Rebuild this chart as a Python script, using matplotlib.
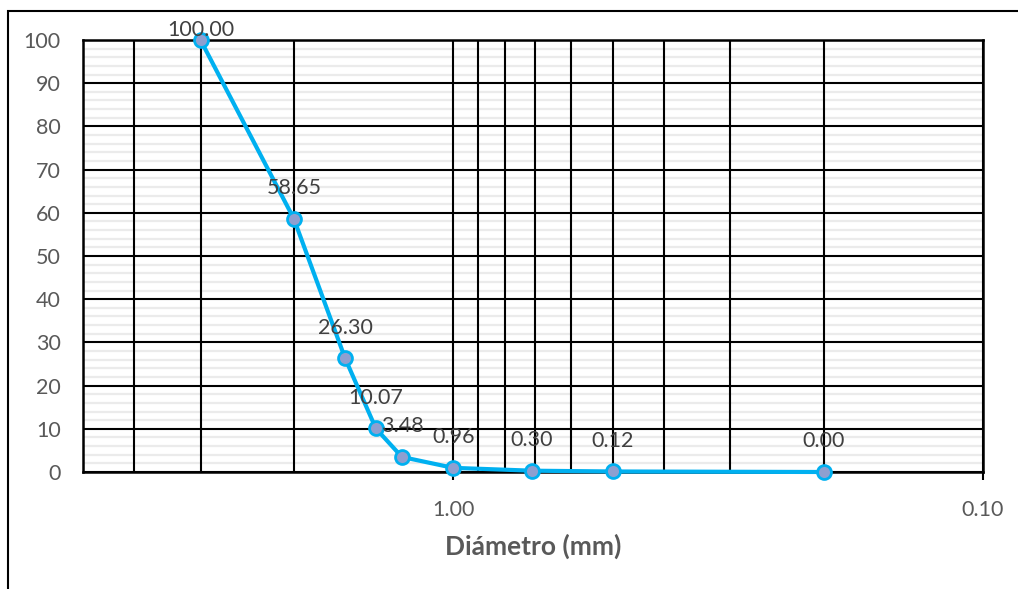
import matplotlib.pyplot as plt
from matplotlib.ticker import LogLocator, FixedLocator, FixedFormatter, NullFormatter, MultipleLocator
from matplotlib.patches import Rectangle

# sieve opening (mm) and percent passing
diametro = [3.0, 2.0, 1.6, 1.4, 1.25, 1.0, 0.71, 0.5, 0.2]
pasante = [100.00, 58.65, 26.30, 10.07, 3.48, 0.96, 0.30, 0.12, 0.00]
x_ticks = [1.0, 0.1]
x_tick_labels = ['1.00', '0.10']

plt.rcParams['font.family'] = ['Lato', 'DejaVu Sans']

fig = plt.figure(figsize=(10.18, 5.89), dpi=100)
ax = fig.add_axes([83/1018, 1 - 472/589, 900/1018, 432/589])

# chart border
fig.patches.append(Rectangle((8/1018, -0.1), 1.1, 1 - 11/589 + 0.1, transform=fig.transFigure,
                             fill=False, edgecolor='black', linewidth=1.5))

ax.set_xscale('log')
ax.set_xlim(5, 0.1)
ax.set_ylim(0, 100)

# grid: black on log decades and sub-decades, light grey every 2 on y
ax.xaxis.set_major_locator(FixedLocator(x_ticks))
ax.xaxis.set_major_formatter(FixedFormatter(x_tick_labels))
ax.xaxis.set_minor_locator(LogLocator(base=10, subs=range(2, 10)))
ax.xaxis.set_minor_formatter(NullFormatter())
ax.yaxis.set_major_locator(MultipleLocator(10))
ax.yaxis.set_minor_locator(MultipleLocator(2))
ax.grid(which='major', axis='both', color='black', linewidth=1.5, linestyle='-')
ax.grid(which='minor', axis='x', color='black', linewidth=1.5, linestyle='-')
ax.grid(which='minor', axis='y', color='#ebebeb', linewidth=1.6, linestyle='-')
ax.set_axisbelow(True)
# keep the light y lines under the black x lines
ax.yaxis.set_zorder(0.4)
ax.xaxis.set_zorder(0.6)

for s in ax.spines.values():
    s.set_color('black')
    s.set_linewidth(1.8)

ax.tick_params(axis='x', which='major', length=6, width=1.5, color='black', pad=14,
               labelsize=15.5, labelcolor='#595959')
ax.tick_params(axis='y', which='major', length=0, pad=16, labelsize=15.5, labelcolor='#595959')
ax.tick_params(which='minor', length=0)

ax.plot(diametro, pasante, color='#00b0f0', linewidth=3, marker='o', markersize=10,
        markerfacecolor='#8e9fd0', markeredgecolor='#00b0f0', markeredgewidth=2, zorder=5,
        clip_on=False)

for i, (d, p) in enumerate(zip(diametro, pasante)):
    off = 7 if p >= 100 else 22
    ax.annotate(f'{p:.2f}', (d, p), xytext=(0, off), textcoords='offset points',
                ha='center', va='center', fontsize=15.5, color='#404040', zorder=6)

ax.set_xlabel('Diámetro (mm)', fontsize=19, fontweight='bold', color='#595959', labelpad=10)

fig.savefig('out.png', dpi=100)
